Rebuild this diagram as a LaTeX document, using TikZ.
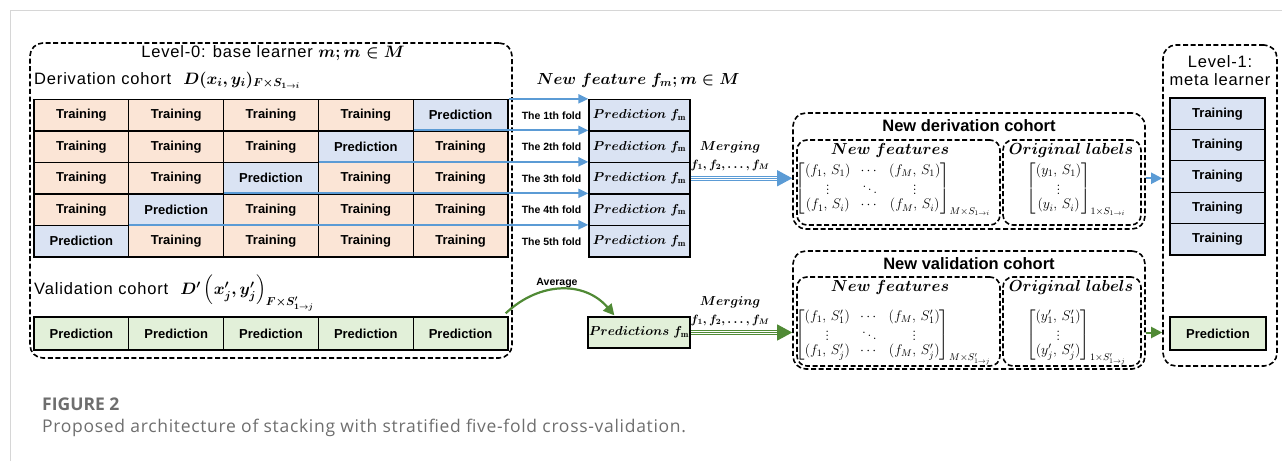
\RequirePackage{fix-cm}
\documentclass[tikz,border=0pt]{standalone}
\usepackage{amsmath,amssymb}
\usepackage{fontspec}
\setsansfont{Liberation Sans}
\newfontfamily\capfont{Open Sans}
\usetikzlibrary{arrows.meta}

\definecolor{peach}{HTML}{FBE5D6}
\definecolor{paleblue}{HTML}{DAE3F3}
\definecolor{palegreen}{HTML}{E2F0D9}
\definecolor{arrowblue}{HTML}{5B9BD5}
\definecolor{arrowgreen}{HTML}{508A35}
\definecolor{framegray}{HTML}{D6D6D6}
\definecolor{capgray}{HTML}{6E6E6E}

\newcommand\titlefont{\sffamily\fontsize{16.5}{18}\selectfont\addfontfeature{LetterSpace=5}}

\begin{document}
\begin{tikzpicture}[x=1pt,y=-1pt,
  cellbase/.style={draw=black, line width=1.3pt, minimum width=94.8pt, minimum height=31.5pt,
    inner sep=0pt, font=\sffamily\bfseries\fontsize{13}{15}\selectfont},
  grp/.style={draw=black, line width=1.6pt, dash pattern=on 5pt off 2.6pt, rounded corners=13pt, inner sep=0pt},
  sub/.style={grp, rounded corners=10pt},
  foldlab/.style={font=\sffamily\bfseries\fontsize{10.5}{12}\selectfont, inner sep=0pt},
  ttl/.style={font=\titlefont, inner sep=0pt},
  boldttl/.style={font=\sffamily\bfseries\fontsize{16.5}{19}\selectfont, inner sep=0pt},
  bigmath/.style={font=\fontsize{16}{18}\selectfont\boldmath, inner sep=0pt},
  boxmath/.style={font=\fontsize{13}{15}\selectfont\boldmath, inner sep=0pt},
  listmath/.style={font=\fontsize{12}{14}\selectfont\boldmath, inner sep=0pt},
  matfont/.style={font=\fontsize{14}{14.2}\selectfont, inner sep=0pt},
  capstyle/.style={anchor=west, inner sep=0pt, text=capgray},
  link/.style={draw=arrowblue, line width=2pt, -{Triangle[length=10pt,width=9pt]}},
  shortlink/.style={draw=#1, line width=2pt, -{Triangle[length=11pt,width=11pt]}},
  avg/.style={draw=arrowgreen, line width=2.2pt, -{Triangle[length=11pt,width=11pt]}},
  triple/.style={draw=#1, line width=1.1pt, -{Triangle[length=15pt,width=16pt]},
    preaction={draw=white, line width=3.3pt, shorten >=14pt, -,
      preaction={draw=#1, line width=5.5pt, shorten >=14pt, -}}}
]
\useasboundingbox (0,0) rectangle (1282,461);

% page frame
\draw[framegray, line width=1pt] (10,461) -- (10,10) -- (1282,10);

% ---------- Level-0 ----------
\node[grp, minimum width=482pt, minimum height=315pt] (L0) at (271,200.5) {};
\node[ttl] (L0t) at (273,53) {Level-0: base learner {\boldmath$m; m\in M$}};
\node[ttl, anchor=west] (dct) at (34,80) {Derivation cohort\hspace{12pt}{\boldmath$D(x_i,y_i)_{F\times S_{1\to i}}$}};

% five folds: training / prediction cells
\foreach \row in {1,...,5}{
  \pgfmathtruncatemacro\pc{6-\row}
  \foreach \col in {1,...,5}{
    \ifnum\col=\pc \def\clr{paleblue}\def\txt{Prediction}\else \def\clr{peach}\def\txt{Training}\fi
    \node[cellbase, fill=\clr] (g\row\col) at ({81.4+94.8*(\col-1)}, {115.25+31.5*(\row-1)}) {\txt};
  }
  \node[cellbase, fill=paleblue, minimum width=101pt, font=\fontsize{13}{15}\selectfont\boldmath]
    (fm\row) at (639.5, {115.25+31.5*(\row-1)}) {$Prediction\ f_{\mathrm{m}}$};
  \node[foldlab] (fl\row) at (551.5, {115.25+31.5*(\row-1)}) {The \row th fold};
  \draw[link] (g\row\pc.north east) -- (fm\row.north west);
}

\node[ttl, anchor=west] (vct) at (34,293) {Validation cohort\hspace{12pt}{\boldmath$D'\left(x'_j,y'_j\right)_{F\times S'_{1\to j}}$}};
\foreach \col in {1,...,5}{
  \node[cellbase, fill=palegreen, minimum height=33pt] (v\col) at ({81.4+94.8*(\col-1)}, 333.5) {Prediction};
}

% ---------- new features ----------
\node[bigmath] (nft) at (638,80) {$New\ feature\ f_m; m\in M$};
\node[cellbase, fill=palegreen, minimum width=102pt, minimum height=31pt, font=\fontsize{13}{15}\selectfont\boldmath]
  (pb) at (639,332.5) {$Predictions\ f_{\mathrm{m}}$};

\node[boxmath] (mg1) at (730,147) {$Merging$};
\node[listmath] (fl1) at (730,165) {$f_1, f_2, \dots, f_M$};
\node[boxmath] (mg2) at (730,302) {$Merging$};
\node[listmath] (fl2) at (730,320) {$f_1, f_2, \dots, f_M$};

\node[foldlab] (avl) at (557,283) {Average};
\coordinate (avs) at ([shift={(-3,-3)}]v5.north east);
\coordinate (ave) at ([shift={(27,-1)}]pb.north west);
\draw[avg] (avs) .. controls (540,281) and (585,281) .. (ave);

% ---------- new cohorts ----------
\node[grp, minimum width=352pt, minimum height=116pt] (ndc) at (969,171) {};
\node[boldttl] at (969,126) {New derivation cohort};
\node[sub, minimum width=203pt, minimum height=85pt] (nf1) at (898.5,182.5) {};
\node[sub, minimum width=138pt, minimum height=85pt] (ol1) at (1072,182.5) {};
\node[bigmath] at (890,150) {$New\ features$};
\node[bigmath] at (1071,150) {$Original\ labels$};
\node[matfont] (m1) at (893,189.5) {$\begin{bmatrix}
  (f_1,\,S_1) & \cdots & (f_M,\,S_1)\\
  \vdots & \ddots & \vdots\\
  (f_1,\,S_i) & \cdots & (f_M,\,S_i)
\end{bmatrix}_{M\times S_{1\to i}}$};
\node[matfont] (o1) at (1076,189.5) {$\begin{bmatrix}
  (y_1,\,S_1)\\ \vdots\\ (y_i,\,S_i)
\end{bmatrix}_{1\times S_{1\to i}}$};

\node[grp, minimum width=352pt, minimum height=118pt] (nvc) at (969,310) {};
\node[boldttl] at (969,264) {New validation cohort};
\node[sub, minimum width=203pt, minimum height=89pt] (nf2) at (898.5,321.5) {};
\node[sub, minimum width=138pt, minimum height=89pt] (ol2) at (1072,321.5) {};
\node[bigmath] at (890,287) {$New\ features$};
\node[bigmath] at (1071,287) {$Original\ labels$};
\node[matfont] (m2) at (893,337.5) {$\begin{bmatrix}
  (f_1,\,S'_1) & \cdots & (f_M,\,S'_1)\\
  \vdots & \ddots & \vdots\\
  (f_1,\,S'_j) & \cdots & (f_M,\,S'_j)
\end{bmatrix}_{M\times S'_{1\to j}}$};
\node[matfont] (o2) at (1076,337.5) {$\begin{bmatrix}
  (y'_1,\,S'_1)\\ \vdots\\ (y'_j,\,S'_j)
\end{bmatrix}_{1\times S'_{1\to j}}$};

% ---------- Level-1 ----------
\node[grp, minimum width=114pt, minimum height=321pt] (L1) at (1220,205.5) {};
\node[ttl, align=center] (L1t) at (1220,71) {Level-1:\\meta learner};
\foreach \row in {1,...,5}{
  \node[cellbase, fill=paleblue, minimum width=95pt, minimum height=31.4pt] (t\row) at (1217.5, {113.7+31.4*(\row-1)}) {Training};
}
\node[cellbase, fill=palegreen, minimum width=96pt, minimum height=33pt] (lp) at (1218,333.5) {Prediction};

% ---------- connectors ----------
\draw[triple=arrowblue] (fm3.east) -- (fm3 -| ndc.west);
\draw[triple=arrowgreen] (pb.east) -- (pb -| nvc.west);
\draw[shortlink=arrowblue] (fm3 -| ndc.east) -- (fm3 -| L1.west);
\draw[shortlink=arrowgreen] (pb -| nvc.east) -- (pb -| L1.west);

% ---------- caption ----------
\node[capstyle, font=\capfont\bfseries\fontsize{17.5}{20}\selectfont] (figno) at (42,404) {FIGURE 2};
\node[capstyle, font=\capfont\fontsize{17.5}{20}\selectfont\addfontfeature{LetterSpace=4}] (figcap) at (42,428)
  {Proposed architecture of stacking with stratified five-fold cross-validation.};
\end{tikzpicture}
\end{document}
